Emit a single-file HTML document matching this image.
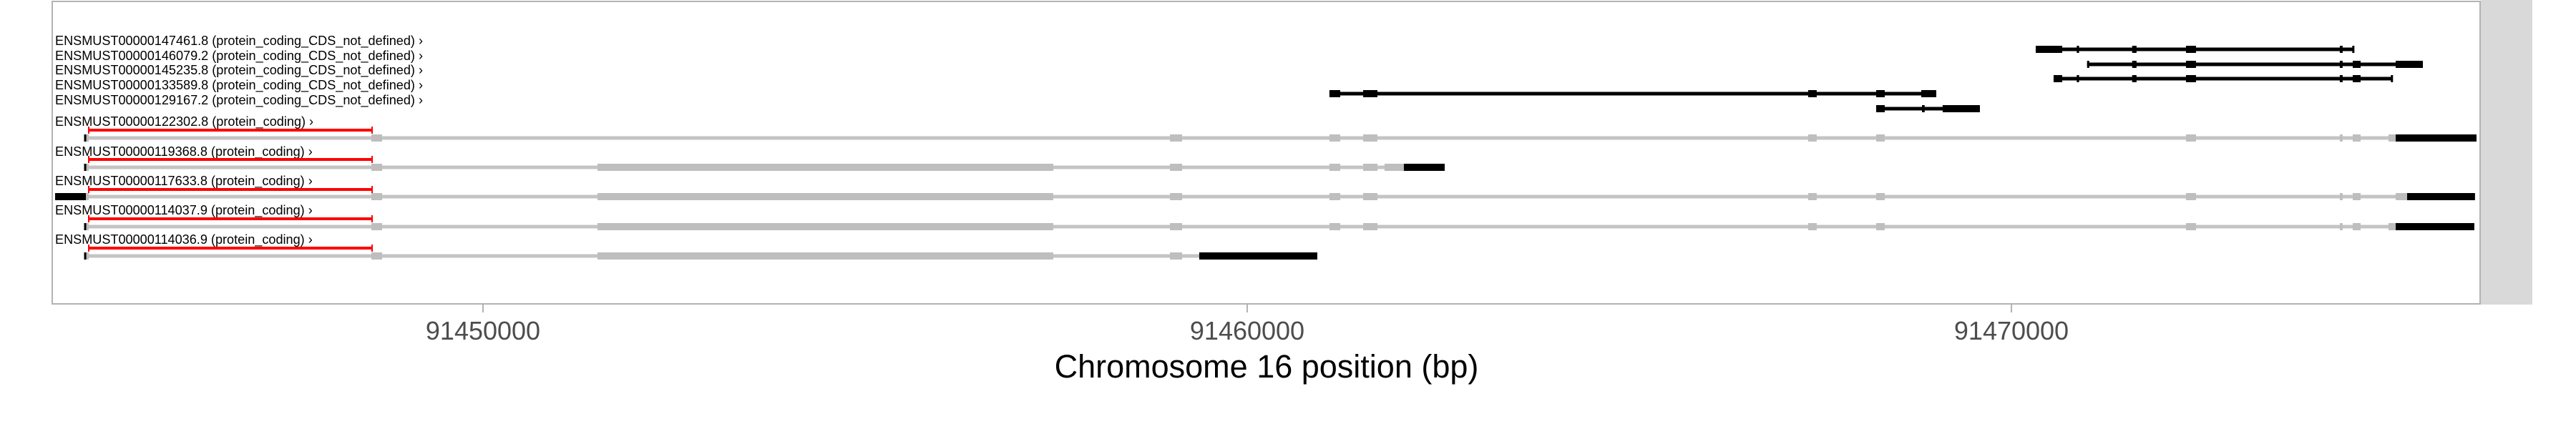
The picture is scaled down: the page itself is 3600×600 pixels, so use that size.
<!DOCTYPE html>
<html><head><meta charset="utf-8"><style>
html,body{margin:0;padding:0;background:#fff;}
svg{display:block;}
text{font-family:"Liberation Sans",sans-serif;}
</style></head><body>
<svg id="chart" width="3600" height="600" viewBox="0 0 3600 600" xmlns="http://www.w3.org/2000/svg">
<rect x="73" y="2" width="3393" height="423" fill="#fff" stroke="#b3b3b3" stroke-width="2"/>
<rect x="3467" y="0" width="72" height="426" fill="#d9d9d9"/>
<g id="tracks"></g>
<g id="axis"></g>
<text x="1770" y="528" font-size="45" text-anchor="middle" fill="#000">Chromosome 16 position (bp)</text>
</svg>
<script>
// axis ticks
const tickValues = [91450000, 91460000, 91470000];
const tickLabels = ["91450000", "91460000", "91470000"];
// transcript names / types
const transcriptNames = ["ENSMUST00000147461.8","ENSMUST00000146079.2","ENSMUST00000145235.8","ENSMUST00000133589.8","ENSMUST00000129167.2","ENSMUST00000122302.8","ENSMUST00000119368.8","ENSMUST00000117633.8","ENSMUST00000114037.9","ENSMUST00000114036.9"];
const transcriptTypes = ["protein_coding_CDS_not_defined","protein_coding_CDS_not_defined","protein_coding_CDS_not_defined","protein_coding_CDS_not_defined","protein_coding_CDS_not_defined","protein_coding","protein_coding","protein_coding","protein_coding","protein_coding"];
// exons per transcript: [start, end, kind] kind: n=noncoding black, g=grey, b=black
const ex147461 = [[91470318,91470664,"n"],[91470855,91470885,"n"],[91471580,91471637,"n"],[91472284,91472415,"n"],[91474297,91474334,"n"],[91474460,91474485,"n"]];
const ex146079 = [[91470990,91471010,"n"],[91471580,91471637,"n"],[91472284,91472415,"n"],[91474297,91474334,"n"],[91474466,91474569,"n"],[91475028,91475384,"n"]];
const ex145235 = [[91470552,91470664,"n"],[91470855,91470885,"n"],[91471580,91471637,"n"],[91472284,91472415,"n"],[91474297,91474334,"n"],[91474466,91474569,"n"],[91474965,91474985,"n"]];
const ex133589 = [[91461076,91461217,"n"],[91461517,91461704,"n"],[91467340,91467452,"n"],[91468230,91468342,"n"],[91468820,91469016,"n"]];
const ex129167 = [[91468230,91468342,"n"],[91468830,91468865,"n"],[91469100,91469587,"n"]];
const ex122302 = [[91444780,91444810,"b"],[91444810,91444841,"g"],[91448539,91448680,"g"],[91458989,91459148,"g"],[91461076,91461217,"g"],[91461517,91461704,"g"],[91467340,91467452,"g"],[91468230,91468342,"g"],[91472284,91472415,"g"],[91474297,91474334,"g"],[91474466,91474569,"g"],[91474934,91475028,"g"],[91475028,91476086,"b"]];
const ex119368 = [[91444780,91444810,"b"],[91444810,91444841,"g"],[91448539,91448680,"g"],[91451498,91457462,"g"],[91458989,91459148,"g"],[91461076,91461217,"g"],[91461517,91461704,"g"],[91461797,91462050,"g"],[91462050,91462584,"b"]];
const ex117633 = [[91444401,91444804,"b"],[91444804,91444841,"g"],[91448539,91448680,"g"],[91451498,91457462,"g"],[91458989,91459148,"g"],[91461076,91461217,"g"],[91461517,91461704,"g"],[91467340,91467452,"g"],[91468230,91468342,"g"],[91472284,91472415,"g"],[91474297,91474334,"g"],[91474466,91474569,"g"],[91475028,91475178,"g"],[91475178,91476066,"b"]];
const ex114037 = [[91444780,91444810,"b"],[91444810,91444841,"g"],[91448539,91448680,"g"],[91451498,91457462,"g"],[91458989,91459148,"g"],[91461076,91461217,"g"],[91461517,91461704,"g"],[91467340,91467452,"g"],[91468230,91468342,"g"],[91472284,91472415,"g"],[91474297,91474334,"g"],[91474466,91474569,"g"],[91474934,91475028,"g"],[91475028,91476057,"b"]];
const ex114036 = [[91444780,91444810,"b"],[91444810,91444841,"g"],[91448539,91448680,"g"],[91451498,91457462,"g"],[91458989,91459148,"g"],[91459372,91460917,"b"]];
const exonSets = [ex147461,ex146079,ex145235,ex133589,ex129167,ex122302,ex119368,ex117633,ex114037,ex114036];
// highlighted region (red bar)
const highlightRange = [91444841, 91448549];

const NS="http://www.w3.org/2000/svg";
function x(bp){ return 675 + (bp - 91450000) * 0.1068; }
function mk(tag, attrs, parent){ const e=document.createElementNS(NS,tag); for(const k in attrs) e.setAttribute(k,attrs[k]); parent.appendChild(e); return e; }

const axis=document.getElementById('axis');
tickValues.forEach((v,i)=>{
  const t=mk('line',{x1:x(v),x2:x(v),y1:426,y2:437,stroke:'#b3b3b3','stroke-width':2},axis);
  
  
  const l=mk('text',{x:x(v),y:475,'font-size':36,'text-anchor':'middle',fill:'#4d4d4d'},axis);
  l.textContent=tickLabels[i];
  
  
});

const tracks=document.getElementById('tracks');
const ncLabelY=[63,84,104,125,146], ncTrackY=[69,90,110,131,152];
const pcLabelY=[176,218,259,300,341], pcTrackY=[193,234,275,317,358], pcRedY=[182,223,265,306,347];
exonSets.forEach((exs,i)=>{
  const pc = i>=5;
  const ly = pc ? pcLabelY[i-5] : ncLabelY[i];
  const ty = pc ? pcTrackY[i-5] : ncTrackY[i];
  const g=mk('g',{},tracks);
  
  
  const lab=mk('text',{x:77,y:ly,'font-size':18.1,fill:'#000'},g);
  lab.textContent=transcriptNames[i]+' ('+transcriptTypes[i]+') \u203A';
  
  
  const s=Math.min(...exs.map(e=>e[0])), e2=Math.max(...exs.map(e=>e[1]));
  const intr=mk('rect',{x:x(s),y:ty-2.5,width:x(e2)-x(s),height:5,fill:pc?'#c4c4c4':'#000'},g);
  
  
  exs.forEach(ex=>{
    const w=Math.max(3,x(ex[1])-x(ex[0]));
    const r=mk('rect',{x:x(ex[0]),y:ty-5,width:w,height:10,fill:ex[2]==='g'?'#bebebe':'#000'},g);
    
    
  });
  if(pc){
    const ry=pcRedY[i-5];
    const rb=mk('g',{},g);
    
    
    mk('rect',{x:x(highlightRange[0]),y:ry-2,width:x(highlightRange[1])-x(highlightRange[0]),height:4,fill:'#ff0000'},rb);
    mk('rect',{x:x(highlightRange[0])-1,y:ry-5,width:2,height:10,fill:'#ff0000'},rb);
    mk('rect',{x:x(highlightRange[1])-1,y:ry-5,width:2,height:10,fill:'#ff0000'},rb);
  }
});
</script>
</body></html>
